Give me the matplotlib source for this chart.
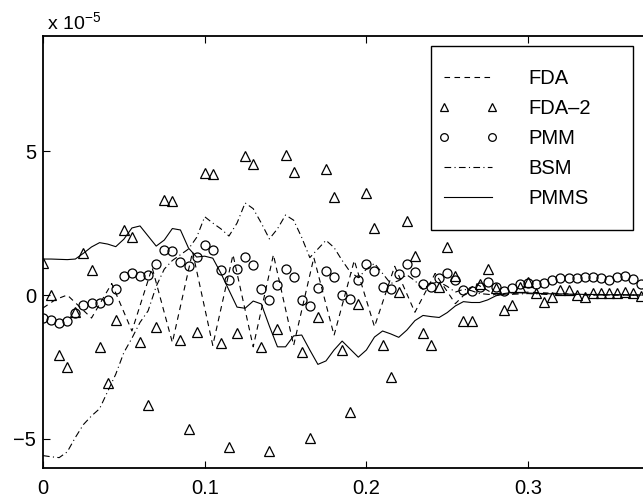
import numpy as np
import matplotlib
matplotlib.use("Agg")
import matplotlib.pyplot as plt
from matplotlib.patches import Rectangle

plt.rcParams['font.family'] = ['Liberation Sans', 'DejaVu Sans']

# ---- data (values in units of 1e-5) ----
x = np.round(np.arange(75) * 0.005, 3)

fda2 = [1.12, 0.00, -2.08, -2.49, -0.58, 1.45, 0.87, -1.80, -3.07, -0.87,
        2.26, 2.02, -1.62, -3.82, -1.10, 3.30, 3.26, -1.56, -4.65, -1.27,
        4.25, 4.20, -1.67, -5.27, -1.32, 4.83, 4.55, -1.82, -5.42, -1.17,
        4.86, 4.26, -1.97, -4.97, -0.78, 4.38, 3.41, -1.92, -4.05, -0.31,
        3.56, 2.33, -1.74, -2.85, 0.09, 2.57, 1.37, -1.33, -1.74, 0.28,
        1.66, 0.66, -0.90, -0.90, 0.37, 0.91, 0.23, -0.52, -0.35, 0.29,
        0.46, 0.06, -0.23, -0.08, 0.17, 0.17, 0.00, -0.06, 0.06, 0.06,
        0.06, 0.06, 0.11, 0.06, -0.03]

pmm = [-0.79, -0.87, -0.98, -0.90, -0.64, -0.33, -0.27, -0.27, -0.16, 0.22,
       0.67, 0.76, 0.67, 0.71, 1.08, 1.56, 1.53, 1.13, 1.00, 1.33,
       1.74, 1.56, 0.88, 0.51, 0.90, 1.33, 1.03, 0.20, -0.17, 0.35,
       0.91, 0.64, -0.17, -0.38, 0.23, 0.85, 0.64, 0.00, -0.15, 0.52,
       1.08, 0.84, 0.29, 0.20, 0.73, 1.08, 0.81, 0.37, 0.29, 0.58,
       0.75, 0.52, 0.17, 0.14, 0.29, 0.44, 0.29, 0.14, 0.23, 0.37,
       0.43, 0.37, 0.41, 0.52, 0.58, 0.58, 0.58, 0.64, 0.61, 0.58,
       0.52, 0.64, 0.67, 0.55, 0.38]

pmms = [1.25, 1.25, 1.24, 1.23, 1.25, 1.45, 1.67, 1.82, 1.77, 1.68,
        1.94, 2.33, 2.40, 2.05, 1.70, 1.91, 2.31, 2.26, 1.63, 1.32,
        1.35, 1.28, 0.76, 0.17, -0.42, -0.46, -0.21, -0.31, -1.08, -1.80,
        -1.80, -1.42, -1.39, -1.91, -2.41, -2.29, -1.91, -1.60, -1.88, -2.16,
        -1.91, -1.46, -1.25, -1.35, -1.47, -1.22, -0.89, -0.71, -0.75, -0.78,
        -0.61, -0.38, -0.23, -0.26, -0.26, -0.17, -0.03, 0.05, 0.09, 0.08,
        0.07, 0.06, 0.05, 0.04, 0.04, 0.03, 0.03, 0.02, 0.02, 0.02,
        0.01, 0.01, 0.01, 0.00, 0.00]

fda_x = [0.0, 0.008, 0.015, 0.03, 0.0425, 0.055, 0.0675, 0.08, 0.0925, 0.105,
         0.1175, 0.13, 0.1425, 0.155, 0.1675, 0.18, 0.1925, 0.205, 0.2175, 0.23,
         0.2425, 0.255, 0.2675, 0.28, 0.30, 0.32, 0.34, 0.371]
fda = [-0.45, -0.15, 0.00, -0.80, 0.40, -1.25, 0.95, -1.65, 1.50, -1.75,
       1.40, -1.80, 1.40, -1.75, 1.30, -1.40, 1.20, -1.10, 1.00, -0.60,
       0.75, -0.30, 0.40, 0.00, 0.10, 0.05, 0.00, 0.00]

bsm_x = [0.0, 0.005, 0.01, 0.015, 0.02, 0.025, 0.03, 0.035, 0.04, 0.045,
         0.05, 0.055, 0.06, 0.065, 0.07, 0.075, 0.08, 0.085, 0.09, 0.095,
         0.10, 0.105, 0.11, 0.115, 0.12, 0.125, 0.13, 0.135, 0.14, 0.145,
         0.15, 0.155, 0.16, 0.165, 0.17, 0.175, 0.18, 0.185, 0.19, 0.195,
         0.20, 0.205, 0.21, 0.215, 0.22, 0.225, 0.23, 0.235, 0.24, 0.245,
         0.25, 0.255, 0.26, 0.265, 0.27, 0.28, 0.30, 0.32, 0.35, 0.371]
bsm = [-5.58, -5.62, -5.65, -5.45, -4.95, -4.50, -4.20, -3.95, -3.35, -2.75,
       -2.00, -1.50, -0.95, -0.55, 0.30, 0.90, 1.20, 1.40, 1.60, 2.00,
       2.72, 2.50, 2.30, 2.05, 2.50, 3.20, 3.00, 2.50, 1.95, 2.30,
       2.78, 2.60, 2.00, 1.30, 1.60, 1.90, 1.65, 1.20, 0.80, 0.60,
       0.90, 1.10, 0.75, 0.40, 0.50, 0.70, 0.50, 0.20, 0.40, 0.45,
       0.30, 0.10, 0.20, 0.15, 0.05, 0.00, 0.05, 0.00, 0.00, 0.00]

labels = ['FDA', 'FDA\u20132', 'PMM', 'BSM', 'PMMS']
xticks = [0, 0.1, 0.2, 0.3]
xticklabels = ['0', '0.1', '0.2', '0.3']
yticks = [-5, 0, 5]
yticklabels = ['\u22125', '0', '5']

W, H = 643, 497
fig = plt.figure(figsize=(W / 100, H / 100), dpi=100)
left, right, top, bottom = 43, 650, 36, 467.7
ax = fig.add_axes([left / W, 1 - bottom / H, (right - left) / W, (bottom - top) / H])

lw = 0.8
h1, = ax.plot(fda_x, fda, color='black', lw=lw, linestyle=(0, (5, 4)))
h2, = ax.plot(x, fda2, linestyle='none', marker='^', ms=7, mfc='none', mec='black', mew=0.9)
h3, = ax.plot(x, pmm, linestyle='none', marker='o', ms=6.5, mfc='none', mec='black', mew=0.9)
h4, = ax.plot(bsm_x, bsm, color='black', lw=lw, linestyle=(0, (6, 3, 1, 3)))
h5, = ax.plot(x, pmms, color='black', lw=lw, linestyle='-')

ax.set_xlim(0, (right - left) / 1617.0)
ax.set_ylim(-6, 9)
ax.set_xticks(xticks)
ax.set_xticklabels(xticklabels)
ax.set_yticks(yticks)
ax.set_yticklabels(yticklabels)
ax.tick_params(direction='in', length=5, width=0.8, top=True, right=True,
               labelsize=14.5, colors='black')
ax.tick_params(axis='x', pad=8)
ax.tick_params(axis='y', pad=5)
for s in ax.spines.values():
    s.set_linewidth(1.3)

fig.text(47 / W, 1 - 30 / H, 'x 10$^{\\mathregular{\u22125}}$', fontsize=14, ha='left', va='baseline')

box = Rectangle((430.7 / W, 1 - 230 / H), (633 - 430.7) / W, (230 - 46) / H,
                transform=fig.transFigure, fill=True, facecolor='white',
                edgecolor='black', lw=1.0, zorder=4, clip_on=False)
ax.add_patch(box)

leg = ax.legend([h1, h2, h3, h4, h5], labels, loc='upper left',
                bbox_to_anchor=(438 / W, 1 - 69 / H), bbox_transform=fig.transFigure,
                frameon=False, numpoints=2, handlelength=3.0, handletextpad=1.5,
                labelspacing=0.55, fontsize=14.5, borderaxespad=0, borderpad=0,
                markerscale=0.85)
leg.set_zorder(5)

fig.savefig('out.png', dpi=100)
